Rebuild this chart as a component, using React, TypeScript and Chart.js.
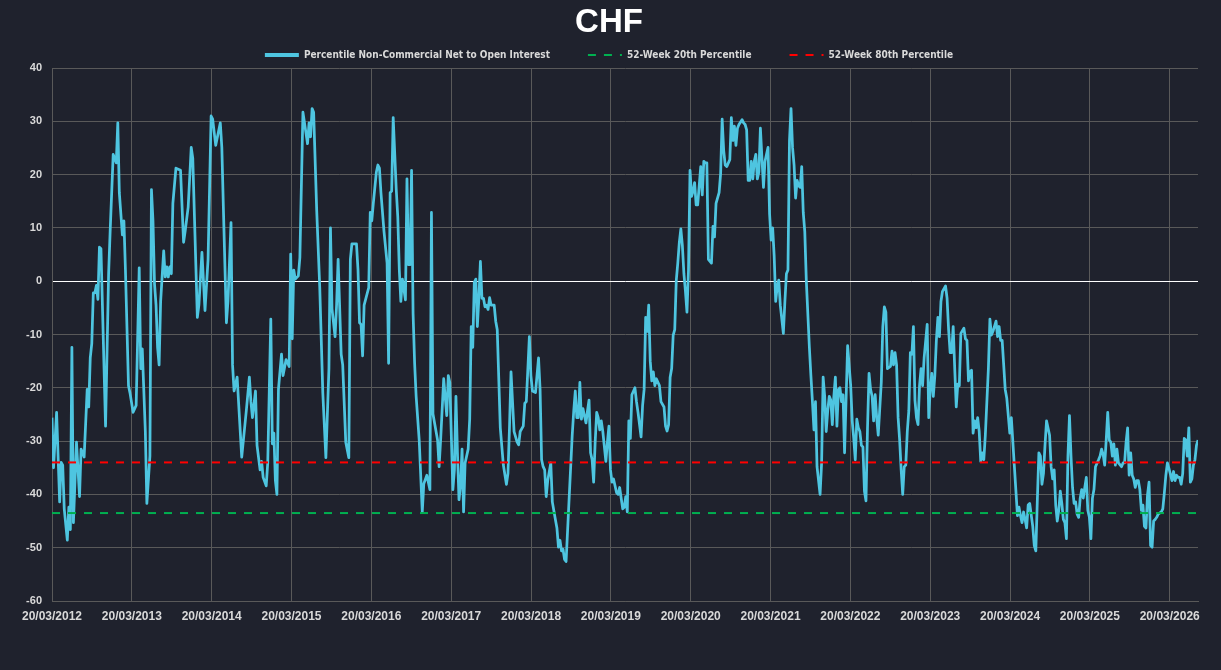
import { useEffect, useRef } from "react";
import { Chart, registerables } from "chart.js";
Chart.register(...registerables);

const chartTitle = "CHF";
const seriesLabel = "Percentile Non-Commercial Net to Open Interest";
const low20Label = "52-Week 20th Percentile";
const high80Label = "52-Week 80th Percentile";

const yearTicks = [
  "20/03/2012", "20/03/2013", "20/03/2014", "20/03/2015", "20/03/2016",
  "20/03/2017", "20/03/2018", "20/03/2019", "20/03/2020", "20/03/2021",
  "20/03/2022", "20/03/2023", "20/03/2024", "20/03/2025", "20/03/2026",
];
const WEEKS_PER_YEAR = 52.18;
const lastWeek = 749;

// 52-week percentile bands (flat over the window)
const low20 = -43.5;
const high80 = -34;

// weeks since 20/03/2012
const weeks = [
  0, 1, 3, 5, 6, 7, 8, 10, 11, 12, 13, 14, 16, 18, 19, 21, 23, 24, 25, 26,
  27, 28, 29, 30, 31, 32, 35, 37, 38, 40, 42, 43, 44, 46, 47, 48, 50, 51, 53, 55,
  57, 58, 59, 61, 62, 64, 65, 66, 67, 68, 69, 70, 71, 73, 74, 75, 76, 77, 78, 79,
  81, 84, 86, 87, 89, 91, 92, 95, 96, 98, 100, 102, 104, 105, 107, 110, 111, 112, 114, 115,
  117, 118, 119, 121,
  124, 127, 129, 130, 131, 133, 134, 136, 137, 138, 140, 141, 143, 144, 145, 146, 147, 148, 150, 151,
  153, 155, 156, 157, 158, 159, 161, 162, 164, 166, 167, 168, 169, 170, 171, 173, 175, 177, 179, 181,
  182, 183, 185, 186, 187, 189, 190, 192, 194, 195, 196, 199, 200, 201, 202, 203, 204, 207, 208, 209,
  210, 212, 213, 214, 215, 217, 219, 220, 221, 222, 223, 225, 226, 227, 228, 229, 231, 232, 233, 234,
  235, 236, 237, 238, 240, 242, 243, 245, 247, 248, 249, 252,
  253, 254, 256, 258, 259, 260, 262, 263, 264, 265, 266, 267, 268, 269, 270, 272, 273, 274, 275, 276,
  277, 278, 279, 280, 281, 282, 283, 284, 285, 286, 287, 289, 290, 291, 293, 295, 297, 298, 299, 300,
  302, 304, 305, 306, 308, 309, 310, 312, 313, 314, 316, 318, 319, 320, 321, 322, 323, 324, 326, 327,
  329, 330, 331, 332, 333, 334, 335, 336, 338, 340, 341, 342, 343, 344, 345, 346, 347, 349, 350, 351,
  352, 353, 354, 355, 356, 357, 358, 359, 360, 362, 363, 364, 365, 366, 367, 369, 370, 371, 373, 374,
  375, 376, 377, 378, 379, 381, 382, 383,
  385, 386, 387, 388, 389, 390, 391, 392, 393, 394, 395, 397, 398, 400, 401, 402, 403, 404, 405, 406,
  407, 408, 409, 410, 411, 412, 413, 414, 415, 416, 417, 418, 419, 420, 421, 422, 424, 425, 426, 427,
  428, 429, 431, 432, 433, 434, 436, 437, 438, 439, 440, 441, 443, 444, 445, 446, 447, 448, 449, 451,
  452, 453, 454, 455, 456, 457, 458, 459, 460, 461, 462, 463, 464, 465, 466, 467, 468, 469, 470, 471,
  472, 473, 474, 475, 476, 478, 479, 480, 481, 482, 483, 484, 485, 486, 487, 488, 489, 490, 491, 492,
  493, 495, 496, 497, 498, 499, 500, 502, 503, 504, 505, 506, 507, 508, 509, 510, 511, 512, 513, 514,
  515, 516, 517, 518, 520, 522, 523, 524, 525, 526, 527, 528, 529, 530, 531, 532, 533, 534, 535, 536,
  537, 538, 539, 540, 542, 543, 544, 545, 546, 548, 549, 550, 551, 552, 553, 554, 555, 556, 557, 558,
  559, 560, 561, 562, 563, 564, 565, 566, 567, 568, 569, 570, 572, 573, 574, 575, 576, 577, 578, 579,
  580, 581, 582, 584, 585, 586, 587, 588, 589, 590, 591, 592, 593, 594, 596, 597, 598, 599, 600, 601,
  602, 603, 604, 605, 606, 607, 608, 609, 610, 612, 613, 614, 615, 617, 618, 619, 620, 621, 622, 623,
  624, 626, 627,
  629, 630, 631, 632, 633, 634, 635, 636, 637, 638, 639, 641, 642, 643, 644, 645, 646, 647, 648, 649,
  650, 652, 653, 654, 655, 656, 657, 658, 659, 660, 661, 662, 663, 664, 665, 666, 667, 668, 669, 670,
  671, 672, 673, 674, 675, 676, 677, 678, 679, 680, 681, 682, 684, 685, 686, 687, 688, 689, 690, 691,
  692, 693, 694, 695, 696, 697, 699, 700, 701, 702, 703, 704, 705, 706, 707, 708, 709, 710, 711, 712,
  713, 714, 715, 716, 717, 718, 719, 720, 721, 722, 723, 725, 726, 727, 728, 729, 730, 732, 733, 734,
  735, 736, 737, 738, 739, 740, 741, 742, 743, 744, 745, 746, 747, 748, 749,
];

const netToOI = [
  -25.6, -35, -24.6, -41.4, -34, -34.5, -42.7, -48.6, -42.4, -46.6, -12.4, -45.3, -30.2, -40.4, -31.5, -33, -20.3, -23.6, -14.4, -11.7,
  -2.2, -2.2, -0.8, -3.4, 6.4, 6.1, -27.2, 1.4, 9.3, 23.8, 22.2, 29.7, 16.6, 8.7, 11.3, 2.1, -19.6, -21, -24.6, -23.3,
  2.5, -16.4, -12.7, -28.2, -41.7, -32.8, 17.2, 11.3, -0.5, -4.5, -12.4, -15.7, -3.8, 5.7, 0.8, 2.7, 0.8, 2.7, 1.4, 14.6,
  21.2, 20.8, 7.3, 9.3, 13.9, 25.1, 23.1, -6.8, -4.5, 5.4, -5.5, 4.1, 31, 30.4, 25.5, 29.7, 25.1, 13.9, -7.8, -3.8,
  11, -15.7, -20.6, -18,
  -33, -24.3, -18, -22.6, -25.6, -20.6, -30.8, -35.4, -33.8, -36.8, -38.4, -34.1, -7.1, -30.5, -28.5, -37.4, -40, -20.3, -13.7, -17.7,
  -14.7, -16, 5.1, -10.8, 2.1, 0.4, 1, 4.4, 31.7, 27.8, 25.8, 29.7, 27.1, 32.4, 31.7, 13.3, -1.2, -21, -33.1, -16.4,
  10, -5.2, -10.4, -4.5, 4.1, -13.7, -15.7, -30.2, -33.1, 4.1, 7, 7, 2.1, -7.8, -8.1, -14, -4.5, -1.2, 12.9, 11.3,
  14.6, 20.5, 21.8, 21.2, 16.6, 9.3, 3.4, -15.4, 16.6, 16.9, 30.7, 17.2, 12, 2.1, -3.8, 0.4, -3.5, 19.2, 3.1, 3.1,
  20.8, -6.1, -15.4, -21.6, -29.8, -43.3, -38, -36.4, -39.1, 12.9, -24.9, -29.8,
  -34.8, -29.8, -18.3, -25.2, -17.7, -19, -39.1, -35.4, -21.6, -32.2, -41, -38.4, -31.5, -43.3, -34.1, -31.5, -25.9, -8.5, -12.4, -0.2,
  0.4, -8.5, -3.2, 3.7, -3.2, -3.2, -4.8, -4.5, -5.3, -3.1, -4.5, -4.5, -7.5, -9.1, -27.5, -34.5, -38.1, -36.1, -27.5, -17,
  -28.2, -30.2, -30.7, -28.2, -27.2, -22.9, -22.6, -10.4, -17.7, -20.6, -20.9, -14.4, -20.3, -33.5, -34.8, -35.4, -40.4, -37.4, -34.1, -41.4,
  -44.7, -46.3, -49.9, -48.6, -50.6, -50.3, -52.2, -52.6, -40.7, -28.9, -24.3, -20.6, -25.6, -25.6, -19, -25.9, -23.9, -26.6, -24.3, -22.3,
  -32.2, -33.5, -37.7, -30.2, -24.6, -25.6, -27.9, -26.2, -28.2, -33.8, -30.2, -27.2, -35.4, -37.7, -37.1, -39.7, -40, -38.7, -42.7, -42.4,
  -40.4, -43.3, -26.2, -29.5, -21.3, -20, -22.6, -24.6,
  -29.2, -23.3, -20.3, -6.8, -9.4, -4.5, -15, -18.7, -17, -19.6, -18.3, -19.6, -22.6, -23.6, -27.2, -28.1, -26.9, -18, -16.4, -10.1,
  -9.1, 0.1, 3.4, 7.3, 9.8, 6.7, 1.4, -1.9, -5.8, 2.1, 20.8, 15.9, 16.9, 18.5, 14.3, 14.3, 21.5, 16.2, 22.5, 22.2,
  22.2, 4.1, 3.4, 10.3, 8.3, 14.6, 16.6, 20.2, 30.4, 24.5, 21.8, 21.5, 22.8, 30.7, 26.4, 29.1, 25.5, 28.7, 29.4, 30.3,
  29.7, 29.4, 28.4, 18.9, 18.9, 22.5, 19.2, 22.5, 23.8, 19.2, 20.5, 28.7, 23.1, 17.6, 22.5, 23.8, 25.1, 12.6, 7.7, 10,
  4.7, -3.8, -0.9, 0.2, -4.5, -9.8, -3.8, 1.4, 2.1, 26.4, 32.4, 25.1, 21.8, 15.6, 18.9, 17.9, 17.6, 21.5, 12.9, 9.3,
  0.1, -12.4, -17.7, -22.6, -27.9, -22.6, -34.8, -40, -34.1, -18, -21.6, -28.2, -24.3, -21.6, -22.3, -26.9, -21.6, -18, -27.2, -20.3,
  -20, -22.6, -21.3, -32.2, -12.1, -19.6, -26.2, -29.5, -33.5, -25.9, -27.5, -28.2, -30.8, -31.1, -39.4, -41.2, -27.5, -17.3, -20.3, -21.6,
  -26.2, -21.3, -25.6, -28.9, -19, -8.5, -4.8, -5.8, -16.4, -16, -13.1, -15.7, -13.4, -15.7, -25.6, -29.8, -35.4, -40, -34.8, -34.5,
  -28.2, -24.3, -13.4, -13.7, -8.5, -22.3, -25.6, -26.9, -19.6, -16.4, -19.6, -14.4, -8.1, -25.6, -20.3, -17.3, -21.6, -17.7, -11.1, -6.8,
  -10.4, -3.8, -1.9, -0.9, -3.2, -9.1, -13.4, -13.4, -8.5, -16.4, -23.6, -19.3, -19.6, -9.8, -8.8, -10.8, -11.1, -18.7, -17, -16.7,
  -28.5, -26.2, -27.5, -25.6, -28.2, -33.8, -32.2, -33.5, -28.9, -16.4, -7.1, -10.1, -9.4, -7.5, -10.4, -8.5, -11.1, -11.1, -15.7, -20.3,
  -21.9, -28.5, -25.6,
  -34.8, -39.4, -44, -42.4, -44, -45.3, -43.3, -44.7, -46.3, -42, -41.7, -46, -49.6, -50.6, -41, -32.2, -32.8, -38.1, -36.1, -30.8,
  -26.2, -28.9, -34.8, -37.1, -35.4, -42, -45, -43, -39.4, -41.7, -44.7, -45.3, -48.3, -32.8, -25.2, -32.8, -38.7, -41.7, -41.4, -43.7,
  -44.3, -40.7, -39.1, -40.7, -38.7, -36.8, -43, -44.3, -48.3, -40.7, -39.1, -34.8, -33.5, -32.8, -31.5, -32.5, -34.5, -29.8, -24.6, -29.8,
  -30.2, -32.8, -30.5, -34.5, -31.5, -34.1, -34.8, -34.1, -34.1, -30.2, -27.5, -36.4, -32.2, -36.4, -37.1, -38.7, -37.4, -37.4, -39.1, -43,
  -42, -46, -46.3, -40.1, -37.7, -49.6, -49.9, -45, -44.7, -44.3, -43.7, -43.3, -42.7, -39.7, -36.4, -34.1, -35.1, -37.4, -35.7, -37.4,
  -36.4, -36.8, -36.8, -38.1, -36.1, -29.5, -29.8, -32.8, -27.5, -37.7, -37.1, -34.5, -33.5, -30.8, -29.8,
];

const BG = "#1f222d";
const GRID = "#595959";
const TEXT = "#d9d9d9";
const LINE = "#4ec5e0";
const FONT = '"Liberation Sans", Arial, sans-serif';
const NARROW = '"DejaVu Sans Condensed", "Liberation Sans", sans-serif';

const App = () => {
  const canvasRef = useRef<HTMLCanvasElement | null>(null);

  useEffect(() => {
    if (!canvasRef.current) return;

    const band = (y: number) => [
      { x: 0, y },
      { x: lastWeek, y },
    ];

    const chart = new Chart(canvasRef.current, {
      type: "line",
      data: {
        datasets: [
          {
            label: seriesLabel,
            data: weeks.map((w, i) => ({ x: w, y: netToOI[i] })),
            borderColor: LINE,
            backgroundColor: LINE,
            borderWidth: 2.75,
            borderJoinStyle: "round",
            pointRadius: 0,
            tension: 0,
            order: 2,
          },
          {
            label: low20Label,
            data: band(low20),
            borderColor: "#00b050",
            backgroundColor: "#00b050",
            borderWidth: 2,
            borderDash: [8, 8],
            pointRadius: 0,
            order: 1,
          },
          {
            label: high80Label,
            data: band(high80),
            borderColor: "#ff0000",
            backgroundColor: "#ff0000",
            borderWidth: 2,
            borderDash: [8, 8],
            pointRadius: 0,
            order: 0,
          },
        ],
      },
      options: {
        responsive: false,
        animation: false,
        layout: { padding: { left: 20, right: 23, top: 0, bottom: 45 } },
        plugins: {
          title: {
            display: true,
            text: chartTitle,
            color: "#ffffff",
            font: { family: FONT, size: 33, weight: "bold" },
            padding: { top: 3, bottom: -30.6 },
          },
          legend: {
            position: "top",
            maxHeight: 56,
            labels: {
              usePointStyle: true,
              pointStyle: "line",
              pointStyleWidth: 34,
              padding: 38,
              color: TEXT,
              font: { family: NARROW, size: 10, weight: "bold" },
              sort: (a, b) => (a.datasetIndex ?? 0) - (b.datasetIndex ?? 0),
              generateLabels: (c) =>
                Chart.defaults.plugins.legend.labels.generateLabels(c).map((item) => {
                  const ds = c.data.datasets[item.datasetIndex ?? 0] as { borderDash?: number[] };
                  return {
                    ...item,
                    lineDash: ds.borderDash ?? [],
                    lineWidth: item.datasetIndex === 0 ? 4 : 2,
                  };
                }),
            },
          },
          tooltip: { enabled: false },
        },
        scales: {
          x: {
            type: "linear",
            min: 0,
            max: lastWeek,
            afterBuildTicks: (axis) => {
              axis.ticks = yearTicks.map((_, i) => ({ value: i * WEEKS_PER_YEAR }));
            },
            afterFit: (axis) => {
              axis.height = 24;
            },
            ticks: {
              autoSkip: false,
              maxRotation: 0,
              padding: 8,
              color: TEXT,
              font: { family: FONT, size: 12, weight: "bold" },
              callback: (_v, i) => yearTicks[i],
            },
            grid: { color: GRID, drawTicks: false },
            border: { color: GRID },
          },
          y: {
            min: -60,
            max: 40,
            afterFit: (axis) => {
              axis.width = 32;
            },
            ticks: {
              stepSize: 10,
              padding: 10,
              color: TEXT,
              font: { family: FONT, size: 11, weight: "bold" },
            },
            grid: {
              color: (ctx) => (ctx.tick && ctx.tick.value === 0 ? "#ffffff" : GRID),
              drawTicks: false,
            },
            border: { color: GRID },
          },
        },
      },
    });

    return () => {
      chart.destroy();
    };
  }, []);

  return (
    <div style={{ position: "fixed", inset: 0, background: BG }}>
      <canvas ref={canvasRef} width={1221} height={670} style={{ display: "block" }} />
    </div>
  );
};

export default App;
